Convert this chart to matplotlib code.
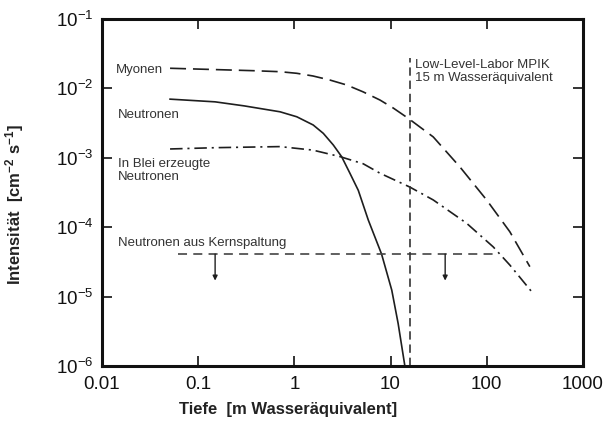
import matplotlib
matplotlib.use("Agg")
import matplotlib.pyplot as plt
from matplotlib.ticker import FixedLocator, FixedFormatter, NullLocator

plt.rcParams['font.family'] = ['Liberation Sans', 'DejaVu Sans']
plt.rcParams['mathtext.fontset'] = 'custom'
plt.rcParams['mathtext.rm'] = 'Liberation Sans'
plt.rcParams['mathtext.it'] = 'Liberation Sans:italic'
plt.rcParams['mathtext.bf'] = 'Liberation Sans:bold'
plt.rcParams['lines.scale_dashes'] = False

# Myonen (long dashes)
myon_x = [0.051, 0.37, 0.71, 1.06, 1.56, 2.34, 3.5, 5.2, 7.76, 10.7, 15.3, 27.8, 52.6, 99.8, 174, 281]
myon_y = [1.95e-2, 1.80e-2, 1.74e-2, 1.65e-2, 1.51e-2, 1.32e-2, 1.12e-2, 8.9e-3, 6.8e-3, 5.2e-3,
          3.7e-3, 2.0e-3, 7.4e-4, 2.47e-4, 8.6e-5, 2.7e-5]

# Neutronen (solid)
neut_x = [0.051, 0.15, 0.30, 0.71, 1.06, 1.57, 2.0, 2.54, 3.10, 3.78, 4.62, 5.87, 8.07, 10.3, 12.0, 14.1]
neut_y = [7.0e-3, 6.4e-3, 5.6e-3, 4.6e-3, 3.9e-3, 2.97e-3, 2.25e-3, 1.53e-3, 1.04e-3, 6.0e-4,
          3.4e-4, 1.27e-4, 4.1e-5, 1.24e-5, 4.1e-6, 1.0e-6]

# In Blei erzeugte Neutronen (dash-dot)
blei_x = [0.051, 0.156, 0.71, 1.56, 2.98, 5.2, 7.76, 15.8, 27.8, 61.8, 117, 174, 293]
blei_y = [1.34e-3, 1.40e-3, 1.45e-3, 1.29e-3, 1.04e-3, 8.2e-4, 6.0e-4, 3.8e-4, 2.47e-4, 1.14e-4,
          5.2e-5, 2.85e-5, 1.18e-5]

# Neutronen aus Kernspaltung (upper limit)
spalt_level = 4.1e-5
spalt_range = [0.062, 122]
arrow_x = [0.15, 37]
arrow_tip = 1.7e-5

# Low-Level-Labor MPIK
lab_depth = 16
lab_top = 2.74e-2

xticks = [0.01, 0.1, 1, 10, 100, 1000]
xticklabels = ['0.01', '0.1', '1', '10', '100', '1000']
yticks = [1e-6, 1e-5, 1e-4, 1e-3, 1e-2, 1e-1]

fig = plt.figure(figsize=(6.04, 4.22), dpi=100)
ax = fig.add_axes([0.1689, 0.1327, 0.7961, 0.8223])

ink = '#1e1e1e'
ax.plot(myon_x, myon_y, color=ink, lw=1.2, dashes=(11.5, 5))
ax.plot(neut_x, neut_y, color=ink, lw=1.2)
ax.plot(blei_x, blei_y, color=ink, lw=1.2, dashes=(9, 3.5, 1.5, 3.5))

ax.hlines(spalt_level, spalt_range[0], spalt_range[1], color='#444444', lw=1.2,
          linestyles=[(0, (6.5, 4.5))])
for xa in arrow_x:
    ax.annotate('', xy=(xa, arrow_tip), xytext=(xa, spalt_level),
                arrowprops=dict(arrowstyle='-|>', color=ink, lw=1.0,
                                mutation_scale=7, shrinkA=0, shrinkB=0))

ax.vlines(lab_depth, 1e-6, lab_top, color='#333333', lw=1.2,
          linestyles=[(0, (6, 3.5))])

txt = dict(fontsize=9.5, color='#333333', va='center', ha='left')
ax.text(0.014, 1.84e-2, 'Myonen', **txt)
ax.text(0.0147, 4.2e-3, 'Neutronen', **txt)
ax.text(0.0147, 6.5e-4, 'In Blei erzeugte\nNeutronen', linespacing=1.15, **txt)
ax.text(0.0147, 5.9e-5, 'Neutronen aus Kernspaltung', **txt)
ax.text(17.9, 1.75e-2, 'Low-Level-Labor MPIK\n15 m Wasseräquivalent', linespacing=1.15, **txt)

ax.set_xscale('log')
ax.set_yscale('log')
ax.set_xlim(0.01, 1000)
ax.set_ylim(1e-6, 1e-1)

ax.xaxis.set_major_locator(FixedLocator(xticks))
ax.xaxis.set_major_formatter(FixedFormatter(xticklabels))
ax.yaxis.set_major_locator(FixedLocator(yticks))
ax.xaxis.set_minor_locator(NullLocator())
ax.yaxis.set_minor_locator(NullLocator())

ax.tick_params(which='major', direction='in', length=7.2, width=1.2,
               top=True, right=True, labelsize=13.5, colors='#111111')
ax.tick_params(axis='x', pad=7)
ax.tick_params(axis='y', pad=6)
for sp in ax.spines.values():
    sp.set_linewidth(2.2)
    sp.set_color('#111111')

ax.set_xlabel('Tiefe  [m Wasseräquivalent]', fontsize=12, fontweight='bold', color='#222222')
ax.xaxis.set_label_coords(0.387, -0.104)
ax.set_ylabel(r'Intensität  [cm$^{\mathbf{-2}}$ s$^{\mathbf{-1}}$]', fontsize=12,
              fontweight='bold', color='#222222')
ax.yaxis.set_label_coords(-0.158, 0.464)

fig.savefig('out.png', dpi=100, facecolor='white')
